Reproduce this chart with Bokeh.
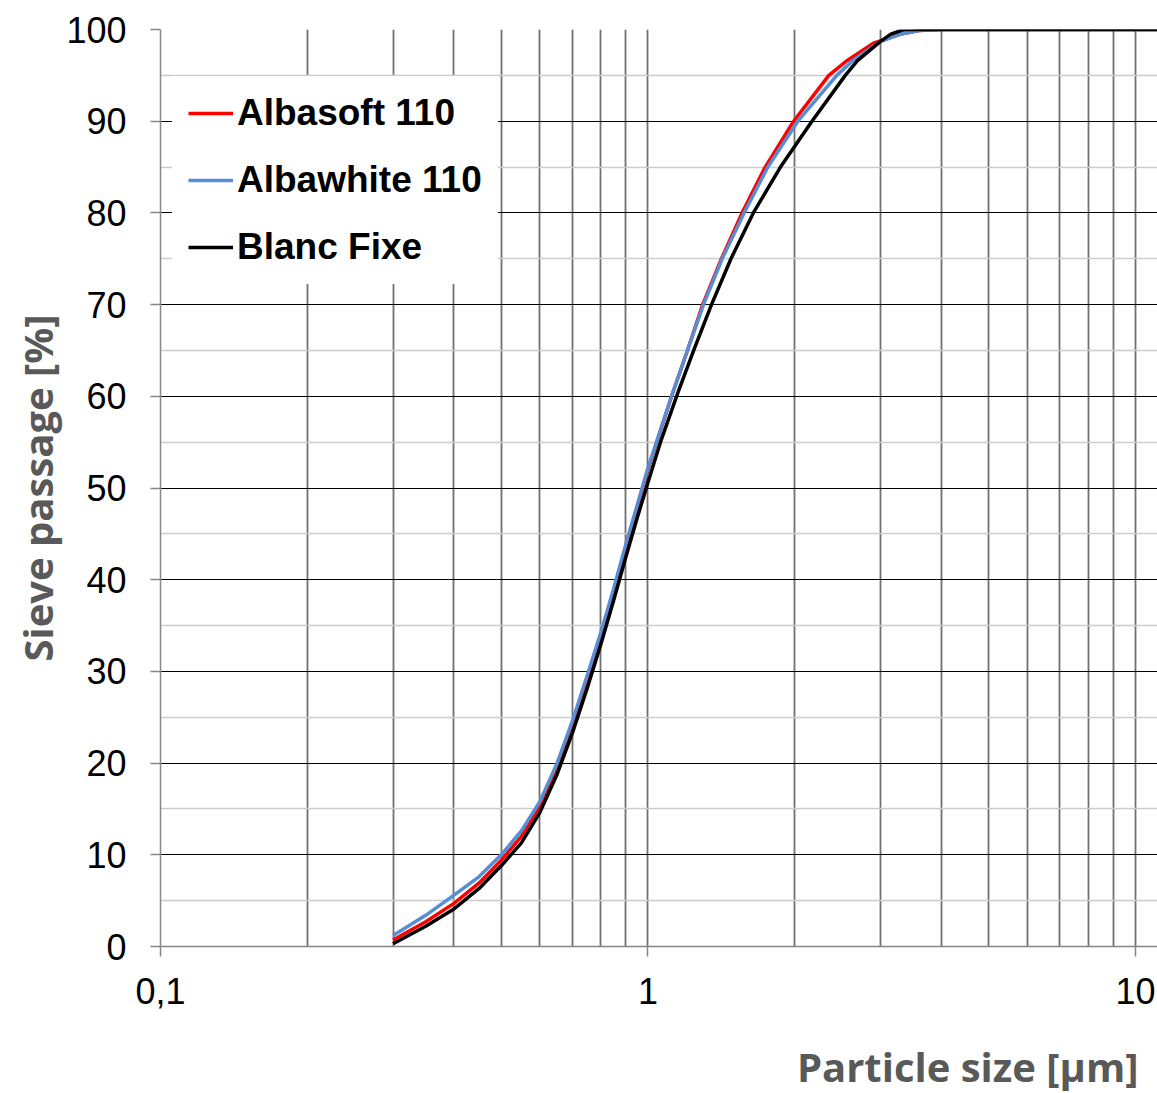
from bokeh.plotting import figure
from bokeh.models import FixedTicker, Legend, LegendItem, Title, LogAxis
from bokeh.embed import file_html
from bokeh.resources import INLINE

# ---- data (particle size in µm, sieve passage in %) ----
albasoft_x = [0.3, 0.35, 0.4, 0.45, 0.5, 0.55, 0.6, 0.65, 0.7, 0.75, 0.8, 0.85, 0.9, 0.95,
              1.0, 1.05, 1.118, 1.205, 1.295, 1.415, 1.56, 1.74, 1.99, 2.35, 2.56, 2.9, 3.3, 3.6, 4.0, 12.0]
albasoft_y = [0.7, 2.7, 4.7, 6.9, 9.4, 12.0, 15.3, 19.4, 24.1, 29.0, 33.8, 38.7, 43.5, 47.9,
              52.0, 55.5, 60, 65, 70, 75, 80, 85, 90, 95, 96.6, 98.5, 99.5, 99.9, 100, 100]

albawhite_x = [0.3, 0.35, 0.4, 0.45, 0.5, 0.55, 0.6, 0.65, 0.7, 0.75, 0.8, 0.85, 0.9, 0.95,
               1.0, 1.05, 1.118, 1.205, 1.30, 1.42, 1.575, 1.762, 2.03, 2.44, 2.63, 3.0, 3.3, 3.6, 4.0, 12.0]
albawhite_y = [1.2, 3.4, 5.6, 7.6, 10, 12.6, 15.8, 19.9, 24.6, 29.5, 34.2, 39.0, 43.8, 48.1,
               52.2, 55.6, 60, 65, 70, 75, 80, 85, 90, 95, 96.6, 98.7, 99.5, 99.9, 100, 100]

blanc_fixe_x = [0.3, 0.35, 0.4, 0.45, 0.5, 0.55, 0.6, 0.65, 0.7, 0.75, 0.8, 0.85, 0.9, 0.95,
                1.0, 1.064, 1.15, 1.245, 1.35, 1.48, 1.645, 1.87, 2.17, 2.54, 2.69, 3.0, 3.15, 3.35, 12.0]
blanc_fixe_y = [0.3, 2.2, 4.1, 6.3, 8.8, 11.3, 14.6, 18.7, 23.3, 28.1, 32.9, 37.7, 42.4, 46.7,
                50.6, 55.2, 60.3, 65.2, 70, 75, 80, 85, 90, 95, 96.6, 98.7, 99.5, 100, 100]

series_names = ["Albasoft 110", "Albawhite 110", "Blanc Fixe"]
x_ticks = [0.1, 1, 10]
x_tick_labels = ["0,1", "1", "10"]
x_minor = [0.2, 0.3, 0.4, 0.5, 0.6, 0.7, 0.8, 0.9, 2, 3, 4, 5, 6, 7, 8, 9]
y_ticks = [0, 10, 20, 30, 40, 50, 60, 70, 80, 90, 100]
y_minor = [5, 15, 25, 35, 45, 55, 65, 75, 85, 95]
x_title = "Particle size [µm]"
y_title = "Sieve passage [%]"

p = figure(width=1157, height=1093, x_axis_type="log",
           x_range=(0.1, 11.1), y_range=(0, 100),
           output_backend="svg", toolbar_location=None,
           min_border_left=160, min_border_top=29, min_border_right=0,
           min_border_bottom=147)
p.outline_line_color = None
p.background_fill_color = "white"
p.border_fill_color = "white"

# x axis
p.xaxis.ticker = FixedTicker(ticks=x_ticks, minor_ticks=x_minor)
p.xaxis.major_label_overrides = dict(zip(x_ticks, x_tick_labels))
p.xaxis.major_label_text_font = "Liberation Sans"
p.xaxis.major_label_text_font_size = "36px"
p.xaxis.major_label_text_color = "#000000"
p.xaxis.major_label_standoff = 21
p.xaxis.major_tick_out = 10
p.xaxis.major_tick_in = 0
p.xaxis.minor_tick_line_color = None
p.xaxis.axis_line_color = "#868686"
p.xaxis.axis_line_width = 1.5
p.xaxis.major_tick_line_color = "#868686"
p.xaxis.major_tick_line_width = 1.5

# y axis
p.yaxis.ticker = FixedTicker(ticks=y_ticks, minor_ticks=y_minor)
p.yaxis.major_label_text_font = "Liberation Sans"
p.yaxis.major_label_text_font_size = "36px"
p.yaxis.major_label_text_color = "#000000"
p.yaxis.major_label_standoff = 24
p.yaxis.major_tick_out = 10
p.yaxis.major_tick_in = 0
p.yaxis.minor_tick_line_color = None
p.yaxis.axis_line_color = "#868686"
p.yaxis.axis_line_width = 1.5
p.yaxis.major_tick_line_color = "#868686"
p.yaxis.major_tick_line_width = 1.5
p.yaxis.axis_label = y_title
p.yaxis.axis_label_text_font = "Open Sans"
p.yaxis.axis_label_text_font_style = "bold"
p.yaxis.axis_label_text_font_size = "40px"
p.yaxis.axis_label_text_color = "#595959"
p.yaxis.axis_label_standoff = -2

# grids
p.xgrid.grid_line_color = "#707070"
p.xgrid.grid_line_width = 1.8
p.xgrid.minor_grid_line_color = "#707070"
p.xgrid.minor_grid_line_width = 1.8
p.ygrid.grid_line_color = "#000000"
p.ygrid.grid_line_width = 1.2
p.ygrid.minor_grid_line_color = "#cccccc"
p.ygrid.minor_grid_line_width = 1.5

colors = ["#ff0000", "#558ed5", "#000000"]
xs_all = [albasoft_x, albawhite_x, blanc_fixe_x]
ys_all = [albasoft_y, albawhite_y, blanc_fixe_y]
renderers = []
for xs, ys, c in zip(xs_all, ys_all, colors):
    r = p.line(xs, ys, line_color=c, line_width=3.5)
    renderers.append(r)

legend = Legend(items=[LegendItem(label=n, renderers=[r]) for n, r in zip(series_names, renderers)],
                location=(12, 662), padding=15, spacing=25, glyph_width=45, glyph_height=40,
                label_height=40, label_standoff=4,
                label_text_font="Liberation Sans", label_text_font_style="bold",
                label_text_font_size="37px", label_text_color="#000000",
                border_line_color="white", border_line_width=1,
                background_fill_color="white", background_fill_alpha=1.0)
p.add_layout(legend, "center")

# invisible spacer axis (one hidden tick) so the title sits low, right-aligned
spacer = LogAxis(ticker=FixedTicker(ticks=[1], minor_ticks=[]), axis_line_color=None,
                 major_tick_line_color=None, minor_tick_line_color=None,
                 major_tick_out=30, major_tick_in=0, major_label_standoff=0,
                 major_label_text_font_size="0px", major_label_text_alpha=0)
p.add_layout(spacer, "below")

xt = Title(text=x_title, align="right", text_font="Open Sans",
           text_font_style="bold", text_font_size="40px", text_color="#595959",
           offset=19, standoff=0)
p.add_layout(xt, "below")

open("out.html", "w").write(file_html(p, INLINE))
